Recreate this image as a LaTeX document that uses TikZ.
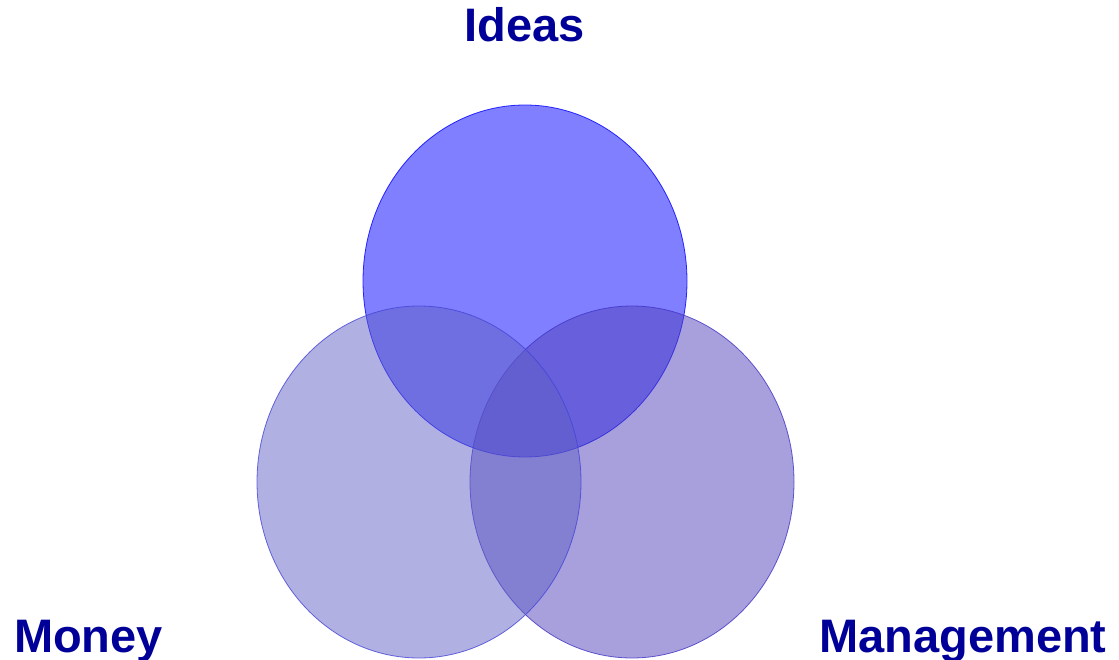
\documentclass[tikz,border=0pt]{standalone}
\usepackage{fontspec}
\setmainfont{Liberation Sans}
\begin{document}
\begin{tikzpicture}[x=1pt,y=-1pt,
  lbl/.style={font=\fontsize{47}{50}\selectfont\bfseries, text=labelblue, inner sep=0pt, anchor=base},
  bubble/.style={fill opacity=0.5, draw opacity=0.8, line width=0.8pt}]
\definecolor{labelblue}{RGB}{0,0,153}
\definecolor{ideasc}{RGB}{0,0,255}
\definecolor{moneyc}{RGB}{97,97,199}
\definecolor{mgmtc}{RGB}{81,65,185}
\useasboundingbox (0,0) rectangle (1119,660);
\draw[bubble, fill=ideasc, draw=ideasc] (525,281) ellipse [x radius=162, y radius=176];
\draw[bubble, fill=mgmtc, draw=mgmtc!80!blue] (632,482) ellipse [x radius=162, y radius=176];
\draw[bubble, fill=moneyc, draw=moneyc!70!blue] (419,482) ellipse [x radius=162, y radius=176];
\node[lbl] (ideas) at (525,42) {Ideas};
\node[lbl] (money) at (88.5,652) {Money};
\node[lbl] (mgmt) at (963,652) {Management};
\end{tikzpicture}
\end{document}
